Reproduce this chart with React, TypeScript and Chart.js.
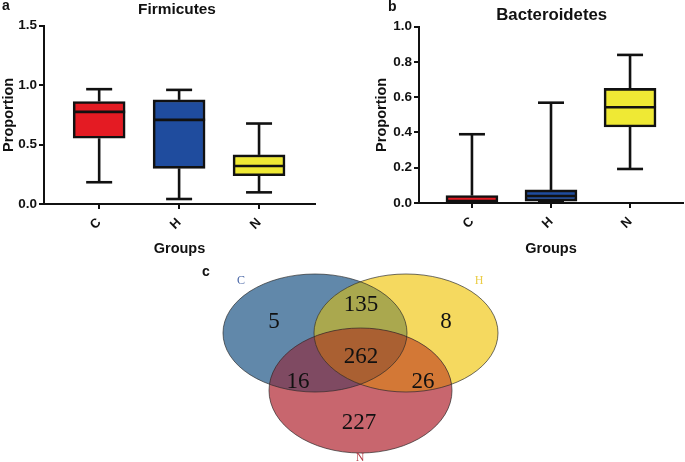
import React, { useEffect, useRef } from "react";
import { Chart, registerables } from "chart.js";

Chart.register(...registerables);

// ---------- data ----------
const categories = ["C", "H", "N"];

const firmLow = [0.183, 0.042, 0.098];
const firmQ1 = [0.553, 0.3, 0.238];
const firmMedian = [0.775, 0.708, 0.32];
const firmQ3 = [0.862, 0.876, 0.413];
const firmHigh = [0.966, 0.96, 0.677];

const bactLow = [0.0, 0.005, 0.193];
const bactQ1 = [0.0, 0.011, 0.431];
const bactMedian = [0.0, 0.04, 0.543];
const bactQ3 = [0.042, 0.074, 0.65];
const bactHigh = [0.39, 0.569, 0.84];

const boxColors = ["#e41b23", "#1f4c9e", "#efe934"];

const vennSets = ["C", "H", "N"];
const vennRegions = ["C", "H", "N", "C∩H", "C∩N", "H∩N", "C∩H∩N"];
const vennCounts = [5, 8, 227, 135, 16, 26, 262];

// ---------- layout / style ----------
const FONT = "Arial, 'Liberation Sans', sans-serif";
const SERIF = "'Liberation Serif', 'DejaVu Serif', serif";

type BoxSpec = {
  low: number[]; q1: number[]; med: number[]; q3: number[]; high: number[];
  yMax: number; yStep: number; xMin: number; xMax: number;
  pad: { left: number; top: number; right: number; bottom: number };
  yWidth: number; xHeight: number;
  title: string; titleX: number; titleY: number; titleSize: number;
  letter: string; letterX: number; letterY: number;
};

function boxConfig(s: BoxSpec): any {
  const whiskerPlugin = {
    id: "whiskers",
    afterDatasetsDraw(chart: any) {
      const ctx = chart.ctx;
      const x = chart.scales.x;
      const y = chart.scales.y;
      const meta = chart.getDatasetMeta(0);
      ctx.save();
      ctx.strokeStyle = "#111";
      ctx.lineWidth = 2.6;
      ctx.lineCap = "butt";
      categories.forEach((_, i) => {
        const cx = x.getPixelForValue(i);
        const bw = meta.data[i] ? meta.data[i].width : 52;
        const cap = bw / 2;
        const line = (x1: number, y1: number, x2: number, y2: number) => {
          ctx.beginPath();
          ctx.moveTo(x1, y1);
          ctx.lineTo(x2, y2);
          ctx.stroke();
        };
        if (s.high[i] > s.q3[i]) {
          line(cx, y.getPixelForValue(s.q3[i]), cx, y.getPixelForValue(s.high[i]));
          line(cx - cap / 2, y.getPixelForValue(s.high[i]), cx + cap / 2, y.getPixelForValue(s.high[i]));
        }
        if (s.low[i] < s.q1[i]) {
          line(cx, y.getPixelForValue(s.q1[i]), cx, y.getPixelForValue(s.low[i]));
          line(cx - cap / 2, y.getPixelForValue(s.low[i]), cx + cap / 2, y.getPixelForValue(s.low[i]));
        }
        if (s.med[i] > s.q1[i]) {
          line(cx - bw / 2, y.getPixelForValue(s.med[i]), cx + bw / 2, y.getPixelForValue(s.med[i]));
        }
      });
      ctx.restore();
    },
    afterDraw(chart: any) {
      const ctx = chart.ctx;
      ctx.save();
      ctx.fillStyle = "#111";
      ctx.textAlign = "center";
      ctx.textBaseline = "middle";
      ctx.font = `bold ${s.titleSize}px ${FONT}`;
      ctx.fillText(s.title, s.titleX, s.titleY);
      ctx.textAlign = "left";
      ctx.font = `bold 14px ${FONT}`;
      ctx.fillText(s.letter, s.letterX, s.letterY);
      ctx.restore();
    },
  };

  return {
    type: "bar",
    data: {
      datasets: [
        {
          data: categories.map((_, i) => ({ x: i, y: [s.q1[i], s.q3[i]] })),
          backgroundColor: boxColors,
          borderColor: "#111",
          borderWidth: 2.6,
          borderSkipped: false,
          barThickness: 52,
          grouped: false,
        },
      ],
    },
    options: {
      responsive: false,
      animation: false,
      devicePixelRatio: 1,
      layout: { padding: s.pad },
      plugins: { legend: { display: false }, tooltip: { enabled: false }, title: { display: false } },
      scales: {
        x: {
          type: "linear",
          min: s.xMin,
          max: s.xMax,
          offset: false,
          afterBuildTicks: (sc: any) => {
            sc.ticks = categories.map((_, i) => ({ value: i }));
          },
          afterFit: (sc: any) => {
            sc.height = s.xHeight;
          },
          ticks: {
            autoSkip: false,
            minRotation: 45,
            maxRotation: 45,
            padding: 6,
            color: "#111",
            font: { family: FONT, size: 13, weight: "bold" },
            callback: (v: any) => categories[v] ?? "",
          },
          grid: { offset: false, drawOnChartArea: false, drawTicks: true, tickLength: 5, color: "#111", lineWidth: 2 },
          border: { display: true, color: "#111", width: 2 },
          title: {
            display: true,
            text: "Groups",
            color: "#111",
            font: { family: FONT, size: 14.5, weight: "bold" },
            padding: { top: 0, bottom: 2 },
          },
        },
        y: {
          type: "linear",
          min: 0,
          max: s.yMax,
          afterBuildTicks: (sc: any) => {
            const t = [];
            for (let v = 0; v <= s.yMax + 1e-9; v += s.yStep) t.push({ value: Math.round(v * 100) / 100 });
            sc.ticks = t;
          },
          afterFit: (sc: any) => {
            sc.width = s.yWidth;
          },
          ticks: {
            padding: 2,
            color: "#111",
            font: { family: FONT, size: 13.5, weight: "bold" },
            callback: (v: any) => Number(v).toFixed(1),
          },
          grid: { drawOnChartArea: false, drawTicks: true, tickLength: 5, color: "#111", lineWidth: 2 },
          border: { display: true, color: "#111", width: 2 },
          title: {
            display: true,
            text: "Proportion",
            color: "#111",
            font: { family: FONT, size: 14.5, weight: "bold" },
            padding: { top: 0, bottom: 0 },
          },
        },
      },
    },
    plugins: [whiskerPlugin],
  };
}

// Venn geometry (layout, in scale units)
const vennGeom = {
  cx: [115, 206, 160.5],
  cy: [73, 73, 130.5],
  rx: [92, 92, 91.5],
  ry: [59, 59, 62.5],
};
const vennFills = {
  C: "rgb(97,136,170)",
  H: "rgb(245,217,95)",
  N: "rgb(200,102,110)",
  CH: "rgb(170,168,78)",
  CN: "rgb(127,74,98)",
  HN: "rgb(211,120,54)",
  CHN: "rgb(170,96,50)",
};
const vennLabelPos: [number, number][] = [
  [74, 62], [246, 62], [159, 163], [161, 45], [98, 122], [223, 122], [161, 97],
];
const vennSetLabelPos: [number, number][] = [[41, 21], [279, 21], [160, 198]];
const vennSetLabelColors = ["rgb(70,100,165)", "rgb(235,205,70)", "rgb(180,60,70)"];

function vennConfig(): any {
  const plugin = {
    id: "venn",
    afterDatasetsDraw(chart: any) {
      const ctx = chart.ctx;
      const x = chart.scales.x;
      const y = chart.scales.y;
      const path = (k: number) => {
        const px = x.getPixelForValue(vennGeom.cx[k]);
        const py = y.getPixelForValue(vennGeom.cy[k]);
        const rx = Math.abs(x.getPixelForValue(vennGeom.cx[k] + vennGeom.rx[k]) - px);
        const ry = Math.abs(y.getPixelForValue(vennGeom.cy[k] + vennGeom.ry[k]) - py);
        ctx.beginPath();
        ctx.ellipse(px, py, rx, ry, 0, 0, Math.PI * 2);
      };
      const fill = (k: number, color: string, clips: number[]) => {
        ctx.save();
        clips.forEach((c) => {
          path(c);
          ctx.clip();
        });
        path(k);
        ctx.fillStyle = color;
        ctx.fill();
        ctx.restore();
      };
      fill(0, vennFills.C, []);
      fill(1, vennFills.H, []);
      fill(2, vennFills.N, []);
      fill(1, vennFills.CH, [0]);
      fill(2, vennFills.CN, [0]);
      fill(2, vennFills.HN, [1]);
      fill(2, vennFills.CHN, [0, 1]);
      ctx.save();
      ctx.strokeStyle = "rgba(40,40,40,0.85)";
      ctx.lineWidth = 0.8;
      [0, 1, 2].forEach((k) => {
        path(k);
        ctx.stroke();
      });
      ctx.restore();

      ctx.save();
      ctx.textAlign = "center";
      ctx.textBaseline = "middle";
      ctx.fillStyle = "#111";
      ctx.font = `23px ${SERIF}`;
      vennCounts.forEach((n, i) => {
        const [lx, ly] = vennLabelPos[i];
        ctx.fillText(String(n), x.getPixelForValue(lx), y.getPixelForValue(ly));
      });
      ctx.font = `12px ${SERIF}`;
      vennSets.forEach((name, i) => {
        const [lx, ly] = vennSetLabelPos[i];
        ctx.fillStyle = vennSetLabelColors[i];
        ctx.fillText(name, x.getPixelForValue(lx), y.getPixelForValue(ly));
      });
      ctx.fillStyle = "#111";
      ctx.textAlign = "left";
      ctx.font = `bold 14px ${FONT}`;
      ctx.fillText("c", x.getPixelForValue(2), y.getPixelForValue(12));
      ctx.restore();
    },
  };
  return {
    type: "scatter",
    data: { datasets: [{ data: [], label: vennRegions.join(",") }] },
    options: {
      responsive: false,
      animation: false,
      devicePixelRatio: 1,
      layout: { padding: 0 },
      plugins: { legend: { display: false }, tooltip: { enabled: false } },
      scales: {
        x: { type: "linear", min: 0, max: 320, display: false },
        y: { type: "linear", min: 0, max: 202, reverse: true, display: false },
      },
    },
    plugins: [plugin],
  };
}

function ChartCanvas({ config, left, top, width, height }: any) {
  const ref = useRef<HTMLCanvasElement>(null);
  useEffect(() => {
    const chart = new Chart(ref.current as HTMLCanvasElement, config());
    return () => chart.destroy();
  }, []);
  return (
    <canvas
      ref={ref}
      width={width}
      height={height}
      style={{ position: "absolute", left, top, width, height }}
    />
  );
}

export default function App() {
  const specA: BoxSpec = {
    low: firmLow, q1: firmQ1, med: firmMedian, q3: firmQ3, high: firmHigh,
    yMax: 1.5, yStep: 0.5, xMin: -0.69, xMax: 2.7,
    pad: { left: 0, top: 25.7, right: 25, bottom: 0 },
    yWidth: 44, xHeight: 56,
    title: "Firmicutes", titleX: 177, titleY: 9.5, titleSize: 15.4,
    letter: "a", letterX: 2, letterY: 6,
  };
  const specB: BoxSpec = {
    low: bactLow, q1: bactQ1, med: bactMedian, q3: bactQ3, high: bactHigh,
    yMax: 1.0, yStep: 0.2, xMin: -0.67, xMax: 2.67,
    pad: { left: 33.3, top: 26.7, right: 2, bottom: 0 },
    yWidth: 45.7, xHeight: 57,
    title: "Bacteroidetes", titleX: 211.7, titleY: 15, titleSize: 16.8,
    letter: "b", letterX: 48, letterY: 7,
  };
  return (
    <div style={{ position: "fixed", left: 0, top: 0, width: 685, height: 462, background: "#fff" }}>
      <ChartCanvas config={() => boxConfig(specA)} left={0} top={0} width={340} height={260} />
      <ChartCanvas config={() => boxConfig(specB)} left={340} top={0} width={345} height={260} />
      <ChartCanvas config={vennConfig} left={200} top={260} width={320} height={202} />
    </div>
  );
}
